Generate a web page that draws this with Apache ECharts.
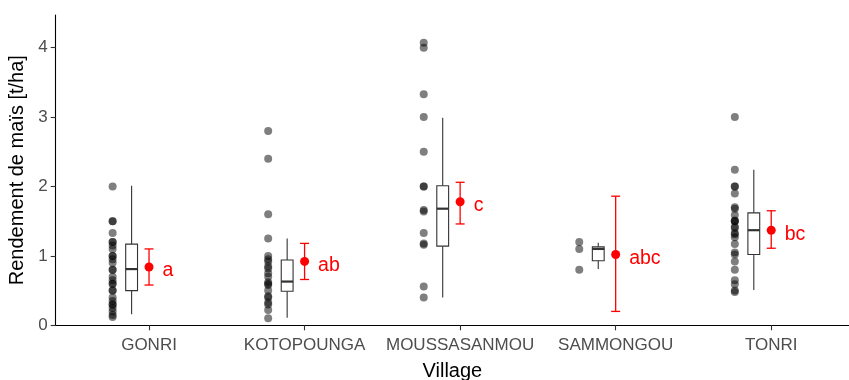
<!DOCTYPE html>
<html>
<head>
<meta charset="utf-8">
<script src="https://cdn.jsdelivr.net/npm/echarts@6/dist/echarts.min.js"></script>
<style>
  html, body { margin: 0; padding: 0; background: #ffffff; }
  #chart { width: 849px; height: 380px; }
</style>
</head>
<body>
<div id="chart"></div>
<script>
// Villages along the x axis
const villages = ['GONRI', 'KOTOPOUNGA', 'MOUSSASANMOU', 'SAMMONGOU', 'TONRI'];

// Individual field yields (t/ha) per village
const yieldsGonri = [2.0, 1.5, 1.5, 1.33, 1.2, 1.2, 1.15, 1.1, 1.0, 1.0, 0.95, 0.9, 0.8, 0.8,
                     0.7, 0.65, 0.6, 0.6, 0.5, 0.5, 0.4, 0.35, 0.3, 0.3, 0.25, 0.2, 0.15, 0.12];
const yieldsKotopounga = [2.8, 2.4, 1.6, 1.25, 1.0, 0.95, 0.92, 0.85, 0.82, 0.75, 0.7, 0.62, 0.6,
                          0.58, 0.5, 0.42, 0.4, 0.33, 0.3, 0.22, 0.1];
const yieldsMoussasanmou = [4.07, 4.0, 3.33, 3.0, 2.5, 2.0, 2.0, 1.66, 1.64, 1.33, 1.18, 1.16, 0.56, 0.4];
const yieldsSammongou = [1.2, 1.1, 0.8];
const yieldsTonri = [3.0, 2.24, 2.0, 2.0, 1.9, 1.7, 1.68, 1.59, 1.51, 1.5, 1.5, 1.42, 1.4, 1.33,
                     1.31, 1.27, 1.17, 1.05, 1.02, 0.92, 0.8, 0.65, 0.59, 0.5, 0.48];
const yieldsByVillage = [yieldsGonri, yieldsKotopounga, yieldsMoussasanmou, yieldsSammongou, yieldsTonri];

// Box statistics: [lower whisker, Q1, median, Q3, upper whisker]
const boxStats = [
  [0.16, 0.50, 0.81, 1.17, 2.01],
  [0.11, 0.49, 0.63, 0.94, 1.25],
  [0.40, 1.14, 1.68, 2.01, 2.99],
  [0.81, 0.93, 1.10, 1.13, 1.19],
  [0.51, 1.02, 1.37, 1.62, 2.24]
];

// Estimated means with confidence limits, and significance letters
const meanValues = [0.84, 0.92, 1.78, 1.02, 1.37];
const ciLower   = [0.58, 0.66, 1.46, 0.20, 1.11];
const ciUpper   = [1.10, 1.18, 2.06, 1.86, 1.65];
const groupLetters = ['a', 'ab', 'c', 'abc', 'bc'];

// Y axis ticks
const yTicks = [0, 1, 2, 3, 4];

// Horizontal dodge of each layer within a village slot (axis units)
const DOT_SHIFT = -0.234;
const BOX_SHIFT = -0.112;
const BOX_HALF = 0.038;
const CAP_HALF = 0.029;

const FONT = "'Liberation Sans', Arial, sans-serif";
const slot = i => i + 1;

const dotData = [];
yieldsByVillage.forEach((vals, i) => vals.forEach(v => dotData.push([slot(i) + DOT_SHIFT, v])));
const boxData = boxStats.map((s, i) => [slot(i) + BOX_SHIFT].concat(s));
const errData = meanValues.map((m, i) => [slot(i), ciLower[i], ciUpper[i]]);
const meanData = meanValues.map((m, i) => ({ value: [slot(i), m], letter: groupLetters[i] }));

const chart = echarts.init(document.getElementById('chart'), null, { renderer: 'canvas' });

chart.setOption({
  animation: false,
  textStyle: { fontFamily: FONT },
  grid: { left: 55.7, right: 0, top: 15, bottom: 54.7, containLabel: false, outerBoundsMode: 'none' },
  xAxis: {
    type: 'value',
    min: 0.4,
    max: 5.5,
    name: 'Village',
    nameLocation: 'middle',
    nameGap: 36,
    nameTextStyle: { color: '#000000', fontSize: 20, fontFamily: FONT },
    axisLine: { onZero: false, lineStyle: { color: '#000000', width: 1.1 } },
    axisTick: { show: true, length: 5, customValues: [1, 2, 3, 4, 5], lineStyle: { color: '#333333', width: 1.1 } },
    axisLabel: {
      customValues: [1, 2, 3, 4, 5],
      formatter: v => villages[Math.round(v) - 1],
      color: '#4D4D4D', fontSize: 17, margin: 12, fontFamily: FONT
    },
    splitLine: { show: false }
  },
  yAxis: {
    type: 'value',
    min: 0,
    max: 4.47,
    name: 'Rendement de maïs [t/ha]',
    nameLocation: 'middle',
    nameGap: 18,
    nameTextStyle: { color: '#000000', fontSize: 20, fontFamily: FONT },
    axisLine: { show: true, onZero: false, lineStyle: { color: '#000000', width: 1.1 } },
    axisTick: { show: true, length: 5, customValues: yTicks, lineStyle: { color: '#333333', width: 1.1 } },
    axisLabel: { customValues: yTicks, color: '#4D4D4D', fontSize: 17, margin: 8, fontFamily: FONT },
    splitLine: { show: false }
  },
  series: [
    {
      // individual observations
      type: 'scatter',
      data: dotData,
      symbol: 'circle',
      symbolSize: 8,
      itemStyle: { color: '#000000', opacity: 0.5 },
      z: 2
    },
    {
      // box and whiskers
      type: 'custom',
      data: boxData,
      encode: { x: 0, y: [1, 2, 3, 4, 5] },
      z: 3,
      renderItem: (params, api) => {
        const x = api.value(0);
        const cx = api.coord([x, 0])[0];
        const left = api.coord([x - BOX_HALF, 0])[0];
        const right = api.coord([x + BOX_HALF, 0])[0];
        const py = k => api.coord([x, api.value(k)])[1];
        const yMin = py(1), yQ1 = py(2), yMed = py(3), yQ3 = py(4), yMax = py(5);
        const stroke = '#333333';
        return {
          type: 'group',
          children: [
            { type: 'line', shape: { x1: cx, y1: yMax, x2: cx, y2: yQ3 }, style: { stroke, lineWidth: 1.1 } },
            { type: 'line', shape: { x1: cx, y1: yQ1, x2: cx, y2: yMin }, style: { stroke, lineWidth: 1.1 } },
            { type: 'rect', shape: { x: left, y: yQ3, width: right - left, height: yQ1 - yQ3 },
              style: { fill: '#ffffff', stroke, lineWidth: 1.1 } },
            { type: 'line', shape: { x1: left, y1: yMed, x2: right, y2: yMed }, style: { stroke, lineWidth: 2.2 } }
          ]
        };
      }
    },
    {
      // confidence interval of the mean
      type: 'custom',
      data: errData,
      encode: { x: 0, y: [1, 2] },
      z: 4,
      renderItem: (params, api) => {
        const x = api.value(0);
        const lo = api.coord([x, api.value(1)]);
        const hi = api.coord([x, api.value(2)]);
        const l = api.coord([x - CAP_HALF, 0])[0];
        const r = api.coord([x + CAP_HALF, 0])[0];
        const style = { stroke: '#FF0000', lineWidth: 1.3 };
        return {
          type: 'group',
          children: [
            { type: 'line', shape: { x1: lo[0], y1: lo[1], x2: hi[0], y2: hi[1] }, style },
            { type: 'line', shape: { x1: l, y1: hi[1], x2: r, y2: hi[1] }, style },
            { type: 'line', shape: { x1: l, y1: lo[1], x2: r, y2: lo[1] }, style }
          ]
        };
      }
    },
    {
      // mean with its group letter
      type: 'scatter',
      data: meanData,
      symbol: 'circle',
      symbolSize: 9,
      itemStyle: { color: '#FF0000', opacity: 1 },
      z: 5,
      label: {
        show: true,
        position: 'right',
        distance: 9,
        formatter: p => p.data.letter,
        color: '#FF0000',
        fontSize: 19.5,
        fontFamily: FONT,
        offset: [0, 4]
      }
    }
  ]
});
</script>
</body>
</html>
